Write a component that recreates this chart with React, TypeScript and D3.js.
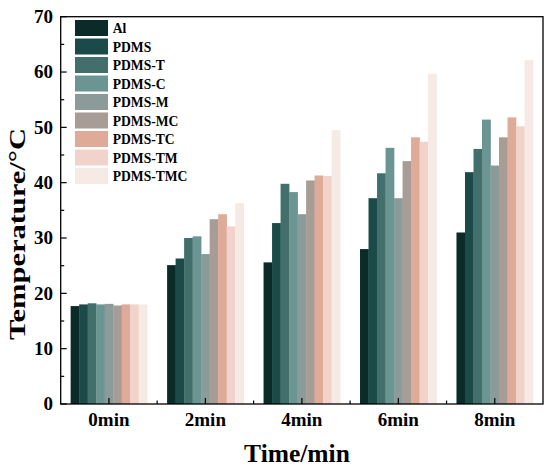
import { useEffect, useRef } from 'react';
import * as d3 from 'd3';

const times = ['0min', '2min', '4min', '6min', '8min'];
const samples = ['Al', 'PDMS', 'PDMS-T', 'PDMS-C', 'PDMS-M', 'PDMS-MC', 'PDMS-TC', 'PDMS-TM', 'PDMS-TMC'];
const colors = ['#0b2b29', '#1a4b48', '#426f6b', '#6a9592', '#8a9b99', '#a79d96', '#dfaa98', '#f1d3cc', '#f6ebe4'];

// temperature per sample, one value per time point
const tAl = [17.7, 25.1, 25.6, 28.0, 31.0];
const tPDMS = [18.0, 26.3, 32.7, 37.2, 41.9];
const tPDMST = [18.2, 30.0, 39.8, 41.7, 46.1];
const tPDMSC = [18.0, 30.3, 38.3, 46.3, 51.4];
const tPDMSM = [18.1, 27.1, 34.3, 37.2, 43.1];
const tPDMSMC = [17.8, 33.4, 40.4, 43.9, 48.2];
const tPDMSTC = [18.0, 34.3, 41.3, 48.2, 51.8];
const tPDMSTM = [18.0, 32.1, 41.2, 47.4, 50.2];
const tPDMSTMC = [18.0, 36.3, 49.5, 59.7, 62.2];
const series = [tAl, tPDMS, tPDMST, tPDMSC, tPDMSM, tPDMSMC, tPDMSTC, tPDMSTM, tPDMSTMC];

const yTicks = [0, 10, 20, 30, 40, 50, 60, 70];

const W = 550;
const H = 469;
const FONT = '"Liberation Serif", "Times New Roman", serif';

export default function App() {
  const svgRef = useRef<SVGSVGElement>(null);

  useEffect(() => {
    if (!svgRef.current) return;
    const svg = d3.select(svgRef.current);
    svg.selectAll('*').remove();

    const left = 60.7, right = 543, top = 16.7, bottom = 404;

    const x0 = d3.scaleBand<string>().domain(times).range([left, right]).padding(0);
    const bw = x0.bandwidth();
    const groupW = bw * 0.794;
    const x1 = d3.scaleBand<string>().domain(samples).range([(bw - groupW) / 2, (bw + groupW) / 2]).padding(0);
    const y = d3.scaleLinear().domain([0, 70]).range([bottom, top]);

    svg.append('rect').attr('width', W).attr('height', H).attr('fill', 'white');

    // bars
    const groups = svg.append('g')
      .selectAll('g')
      .data(times)
      .join('g')
      .attr('transform', (d) => `translate(${x0(d)},0)`);

    groups.selectAll('rect')
      .data((_, i) => samples.map((s, k) => ({ s, v: series[k][i], k })))
      .join('rect')
      .attr('x', (d) => x1(d.s)!)
      .attr('width', x1.bandwidth() + 0.3)
      .attr('y', (d) => y(d.v))
      .attr('height', (d) => bottom - y(d.v))
      .attr('fill', (d) => colors[d.k]);

    // frame
    svg.append('rect')
      .attr('x', left).attr('y', top)
      .attr('width', right - left).attr('height', bottom - top)
      .attr('fill', 'none').attr('stroke', '#000').attr('stroke-width', 1.3);

    // y ticks (inward), major + minor
    const ax = svg.append('g').attr('stroke', '#000').attr('stroke-width', 1.2);
    d3.range(0, 71, 5).forEach((v) => {
      const major = v % 10 === 0;
      ax.append('line')
        .attr('x1', left).attr('x2', left + (major ? 6 : 3.5))
        .attr('y1', y(v)).attr('y2', y(v));
    });
    // x ticks: major at centers, minor at band edges
    times.forEach((t) => {
      const cx = x0(t)! + bw / 2;
      ax.append('line').attr('x1', cx).attr('x2', cx).attr('y1', bottom).attr('y2', bottom - 6);
    });
    times.slice(1).forEach((t) => {
      const ex = x0(t)!;
      ax.append('line').attr('x1', ex).attr('x2', ex).attr('y1', bottom).attr('y2', bottom - 3.5);
    });

    // tick labels
    svg.append('g')
      .selectAll('text')
      .data(yTicks)
      .join('text')
      .attr('x', 53)
      .attr('y', (d) => y(d))
      .attr('dy', '0.34em')
      .attr('text-anchor', 'end')
      .attr('font-family', FONT)
      .attr('font-weight', 'bold')
      .attr('font-size', 19)
      .text((d) => d);

    svg.append('g')
      .selectAll('text')
      .data(times)
      .join('text')
      .attr('x', (d) => x0(d)! + bw / 2)
      .attr('y', 426)
      .attr('text-anchor', 'middle')
      .attr('font-family', FONT)
      .attr('font-weight', 'bold')
      .attr('font-size', 19)
      .text((d) => d);

    // axis titles
    svg.append('text')
      .attr('x', 297).attr('y', 462)
      .attr('text-anchor', 'middle')
      .attr('font-family', FONT)
      .attr('font-weight', 'bold')
      .attr('font-size', 25.5)
      .text('Time/min');

    svg.append('text')
      .attr('transform', `translate(25,${(128 + 340) / 2}) rotate(-90)`)
      .attr('text-anchor', 'middle')
      .attr('font-family', FONT)
      .attr('font-weight', 'bold')
      .attr('font-size', 23)
      .attr('textLength', 212)
      .attr('lengthAdjust', 'spacingAndGlyphs')
      .text('Temperature/°C');

    // legend
    const legend = svg.append('g')
      .selectAll('g')
      .data(samples)
      .join('g')
      .attr('transform', (_, i) => `translate(75,${20 + i * 18.5})`);

    legend.append('rect')
      .attr('width', 33).attr('height', 16)
      .attr('fill', (_, i) => colors[i]);

    legend.append('text')
      .attr('x', 37.7).attr('y', 13.3)
      .attr('font-family', FONT)
      .attr('font-weight', 'bold')
      .attr('font-size', 13.6)
      .text((d) => d);
  }, []);

  return (
    <svg
      ref={svgRef}
      width={W}
      height={H}
      style={{ position: 'absolute', left: 0, top: 0, display: 'block' }}
    />
  );
}
